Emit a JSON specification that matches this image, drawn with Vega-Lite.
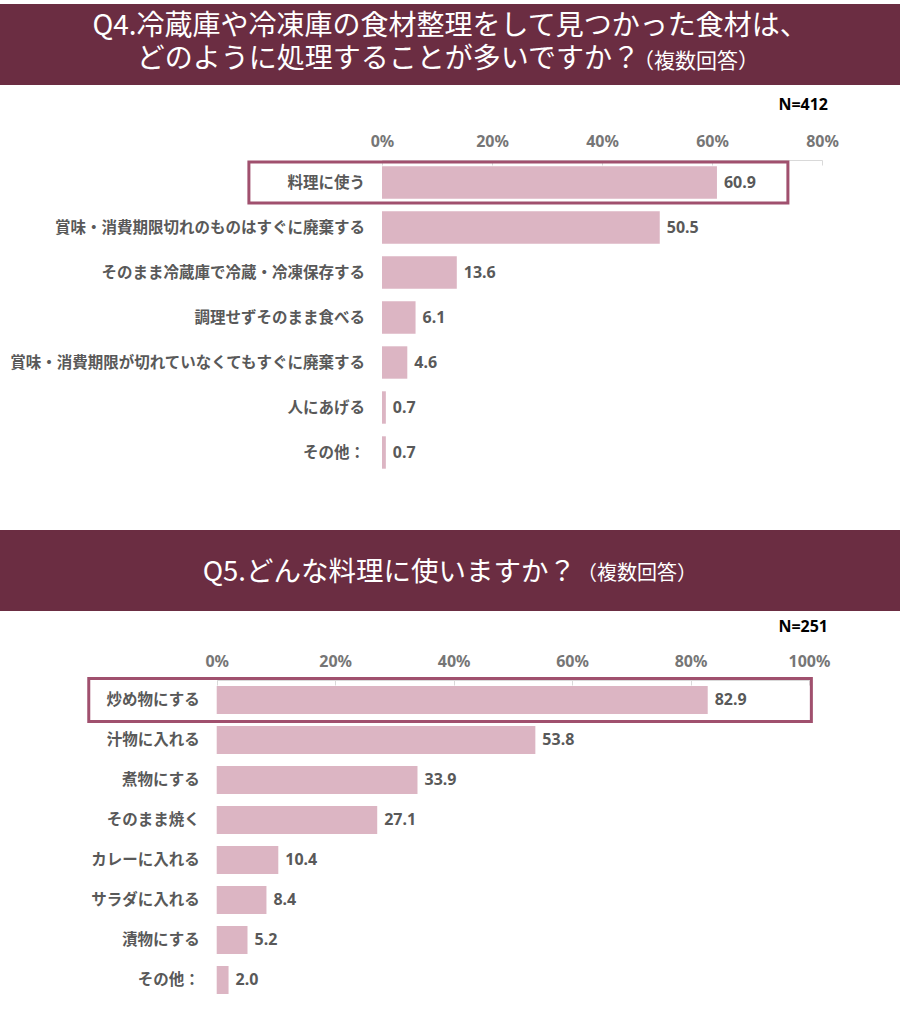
{
  "$schema": "https://vega.github.io/schema/vega-lite/v6.json",
  "background": "#ffffff",
  "padding": {"top": 4, "left": 0, "right": 0, "bottom": 0},
  "spacing": 11,
  "config": {
    "view": {"stroke": null},
    "font": "Noto Sans CJK JP"
  },
  "datasets": {
    "titles": [
      {"q": "Q4", "line": 1, "part": "main", "text": "Q4.冷蔵庫や冷凍庫の食材整理をして見つかった食材は、"},
      {"q": "Q4", "line": 2, "part": "lead", "text": "どのように処理することが多いですか？"},
      {"q": "Q4", "line": 2, "part": "note", "text": "（複数回答）"},
      {"q": "Q5", "line": 1, "part": "lead", "text": "Q5.どんな料理に使いますか？"},
      {"q": "Q5", "line": 1, "part": "note", "text": "（複数回答）"}
    ],
    "q4": [
      {"item": "料理に使う", "pct": 60.9},
      {"item": "賞味・消費期限切れのものはすぐに廃棄する", "pct": 50.5},
      {"item": "そのまま冷蔵庫で冷蔵・冷凍保存する", "pct": 13.6},
      {"item": "調理せずそのまま食べる", "pct": 6.1},
      {"item": "賞味・消費期限が切れていなくてもすぐに廃棄する", "pct": 4.6},
      {"item": "人にあげる", "pct": 0.7},
      {"item": "その他：", "pct": 0.7}
    ],
    "q5": [
      {"item": "炒め物にする", "pct": 82.9},
      {"item": "汁物に入れる", "pct": 53.8},
      {"item": "煮物にする", "pct": 33.9},
      {"item": "そのまま焼く", "pct": 27.1},
      {"item": "カレーに入れる", "pct": 10.4},
      {"item": "サラダに入れる", "pct": 8.4},
      {"item": "漬物にする", "pct": 5.2},
      {"item": "その他：", "pct": 2.0}
    ]
  },
  "vconcat": [
    {
      "spacing": 11,
      "vconcat": [
        {
          "width": 900,
          "height": 81,
          "view": {"fill": "#6b2d42", "stroke": null},
          "data": {"name": "titles"},
          "transform": [{"filter": "datum.q == 'Q4'"}],
          "encoding": {
            "y": {"field": "line", "type": "ordinal", "axis": null, "scale": {"domain": [1, 2], "range": [23, 56], "padding": 0}},
            "text": {"field": "text"},
            "color": {"value": "#ffffff"}
          },
          "layer": [
            {
              "transform": [{"filter": "datum.part == 'main'"}],
              "mark": {"type": "text", "align": "center", "baseline": "middle", "fontSize": 28}
            },
            {
              "transform": [{"filter": "datum.part == 'lead'"}],
              "mark": {"type": "text", "align": "right", "baseline": "middle", "fontSize": 28, "dx": 190}
            },
            {
              "transform": [{"filter": "datum.part == 'note'"}],
              "mark": {"type": "text", "align": "left", "baseline": "middle", "fontSize": 21, "dx": 183, "dy": 2}
            }
          ]
        },
        {
          "width": 828,
          "height": 359,
          "data": {"name": "q4"},
          "title": {"text": "N=412", "anchor": "end", "frame": "group", "font": "Noto Sans", "fontSize": 16, "fontWeight": "bold", "color": "#000000", "offset": 21},
          "encoding": {
            "y": {"field": "item", "type": "nominal", "sort": null, "axis": null, "scale": {"range": [0, 315], "paddingInner": 0.28, "paddingOuter": 0.14}}
          },
          "layer": [
            {
              "transform": [{"filter": "datum.item == '料理に使う'"}],
              "mark": {"type": "bar", "height": 41, "fill": null, "stroke": "#a0506e", "strokeWidth": 3},
              "encoding": {
                "x": {"datum": -24.2, "type": "quantitative", "title": null},
                "x2": {"datum": 73.8}
              }
            },
            {
              "mark": {"type": "bar", "color": "#dcb5c3"},
              "encoding": {
                "x": {
                  "field": "pct",
                  "type": "quantitative",
                  "title": null,
                  "scale": {"domain": [0, 80], "range": [382, 822], "nice": false},
                  "axis": {
                    "orient": "top",
                    "values": [0, 20, 40, 60, 80],
                    "labelExpr": "datum.value + '%'",
                    "grid": false,
                    "domainColor": "#d9d9d9",
                    "tickColor": "#d9d9d9",
                    "tickSize": -5,
                    "labelPadding": 15.5,
                    "labelFont": "Noto Sans",
                    "labelFontSize": 16,
                    "labelFontWeight": "bold",
                    "labelColor": "#767676",
                    "labelFlush": false,
                    "labelOverlap": false
                  }
                }
              }
            },
            {
              "mark": {"type": "text", "align": "left", "baseline": "middle", "dx": 7, "font": "Noto Sans", "fontSize": 16, "fontWeight": "bold", "color": "#595959"},
              "encoding": {
                "x": {"field": "pct", "type": "quantitative", "title": null},
                "text": {"field": "pct", "type": "quantitative", "format": ".1f"}
              }
            },
            {
              "mark": {"type": "text", "align": "right", "baseline": "middle", "dx": -17, "fontSize": 15.5, "fontWeight": "bold", "color": "#595959"},
              "encoding": {
                "x": {"datum": 0, "type": "quantitative", "title": null},
                "text": {"field": "item"}
              }
            }
          ]
        }
      ]
    },
    {
      "spacing": 8,
      "vconcat": [
        {
          "width": 900,
          "height": 81,
          "view": {"fill": "#6b2d42", "stroke": null},
          "data": {"name": "titles"},
          "transform": [{"filter": "datum.q == 'Q5'"}],
          "encoding": {
            "text": {"field": "text"},
            "color": {"value": "#ffffff"}
          },
          "layer": [
            {
              "transform": [{"filter": "datum.part == 'lead'"}],
              "mark": {"type": "text", "align": "right", "baseline": "middle", "fontSize": 27.5, "dx": 126, "dy": 2.5}
            },
            {
              "transform": [{"filter": "datum.part == 'note'"}],
              "mark": {"type": "text", "align": "left", "baseline": "middle", "fontSize": 20, "dx": 127, "dy": 3.5}
            }
          ]
        },
        {
          "width": 828,
          "height": 339,
          "data": {"name": "q5"},
          "title": {"text": "N=251", "anchor": "end", "frame": "group", "font": "Noto Sans", "fontSize": 16, "fontWeight": "bold", "color": "#000000", "offset": 18.5},
          "encoding": {
            "y": {"field": "item", "type": "nominal", "sort": null, "axis": null, "scale": {"range": [0, 320], "paddingInner": 0.3, "paddingOuter": 0.15}}
          },
          "layer": [
            {
              "transform": [{"filter": "datum.item == '炒め物にする'"}],
              "mark": {"type": "bar", "height": 43, "fill": null, "stroke": "#a0506e", "strokeWidth": 3},
              "encoding": {
                "x": {"datum": -21.6, "type": "quantitative", "title": null},
                "x2": {"datum": 100.4}
              }
            },
            {
              "mark": {"type": "bar", "color": "#dcb5c3"},
              "encoding": {
                "x": {
                  "field": "pct",
                  "type": "quantitative",
                  "title": null,
                  "scale": {"domain": [0, 100], "range": [216.7, 809], "nice": false},
                  "axis": {
                    "orient": "top",
                    "values": [0, 20, 40, 60, 80, 100],
                    "labelExpr": "datum.value + '%'",
                    "grid": false,
                    "domainColor": "#d9d9d9",
                    "tickColor": "#d9d9d9",
                    "tickSize": -5,
                    "labelPadding": 15.5,
                    "labelFont": "Noto Sans",
                    "labelFontSize": 16,
                    "labelFontWeight": "bold",
                    "labelColor": "#767676",
                    "labelFlush": false,
                    "labelOverlap": false
                  }
                }
              }
            },
            {
              "mark": {"type": "text", "align": "left", "baseline": "middle", "dx": 7, "font": "Noto Sans", "fontSize": 16, "fontWeight": "bold", "color": "#595959"},
              "encoding": {
                "x": {"field": "pct", "type": "quantitative", "title": null},
                "text": {"field": "pct", "type": "quantitative", "format": ".1f"}
              }
            },
            {
              "mark": {"type": "text", "align": "right", "baseline": "middle", "dx": -17, "fontSize": 15.5, "fontWeight": "bold", "color": "#595959"},
              "encoding": {
                "x": {"datum": 0, "type": "quantitative", "title": null},
                "text": {"field": "item"}
              }
            }
          ]
        }
      ]
    }
  ]
}
